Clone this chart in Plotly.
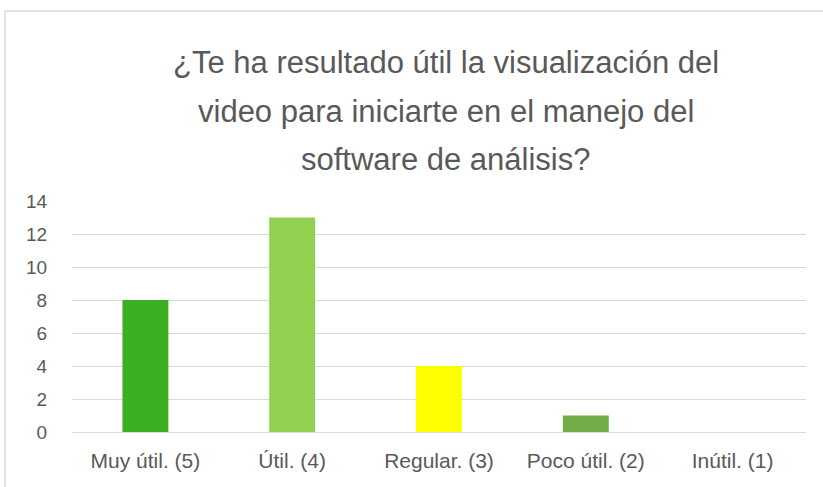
import plotly.graph_objects as go

categories = ["Muy útil. (5)", "Útil. (4)", "Regular. (3)", "Poco útil. (2)", "Inútil. (1)"]
values = [8, 13, 4, 1, 0]
bar_colors = ["#3DB022", "#92D050", "#FFFF00", "#70AD47", "#A5A5A5"]
title_lines = [
    "¿Te ha resultado útil la visualización del",
    "video para iniciarte en el manejo del",
    "software de análisis?",
]
y_ticks = [0, 2, 4, 6, 8, 10, 12, 14]

W, H = 823, 487
L, R, T, B = 72, 17, 201, 55
PW, PH = W - L - R, H - T - B

def px_x(px):
    return (px - L) / PW

def px_y(py):
    return (H - B - py) / PH

font_family = "Liberation Sans, Arial, sans-serif"
gray = "#595959"
grid = "#D9D9D9"

fig = go.Figure(go.Bar(
    x=categories, y=values, marker=dict(color=bar_colors, line=dict(width=0)),
    hoverinfo="skip",
))

annotations = []
for line, cy in zip(title_lines, [62, 111, 159]):
    annotations.append(dict(
        text=line, xref="paper", yref="paper", x=px_x(446), y=px_y(cy),
        xanchor="center", yanchor="middle", showarrow=False,
        font=dict(family=font_family, size=31, color=gray),
    ))

shapes = [
    dict(type="line", xref="paper", yref="paper", x0=px_x(5), x1=px_x(5),
         y0=px_y(11), y1=px_y(H + 5), line=dict(color=grid, width=1.5)),
    dict(type="line", xref="paper", yref="paper", x0=px_x(5), x1=px_x(W + 5),
         y0=px_y(11), y1=px_y(11), line=dict(color=grid, width=1.5)),
]

fig.update_layout(
    width=W, height=H,
    margin=dict(l=L, r=R, t=T, b=B, pad=0),
    paper_bgcolor="white", plot_bgcolor="white",
    bargap=0.687,
    showlegend=False,
    annotations=annotations,
    shapes=shapes,
    font=dict(family=font_family, color=gray, size=19),
    xaxis=dict(
        showgrid=False, showline=False, zeroline=False,
        ticks="outside", ticklen=10, tickcolor="rgba(0,0,0,0)",
        tickfont=dict(size=21, color=gray, family=font_family),
        fixedrange=True,
    ),
    yaxis=dict(
        range=[0, 14], tickvals=y_ticks, showgrid=True, gridcolor=grid, gridwidth=1,
        zeroline=True, zerolinecolor=grid, zerolinewidth=1, showline=False,
        ticks="outside", ticklen=20, tickcolor="rgba(0,0,0,0)",
        tickfont=dict(size=19, color=gray, family=font_family),
        fixedrange=True,
    ),
)

fig.write_html(
    "out.html",
    config={"displayModeBar": False},
    post_script="document.body.style.margin='0';document.body.style.overflow='hidden';",
)
